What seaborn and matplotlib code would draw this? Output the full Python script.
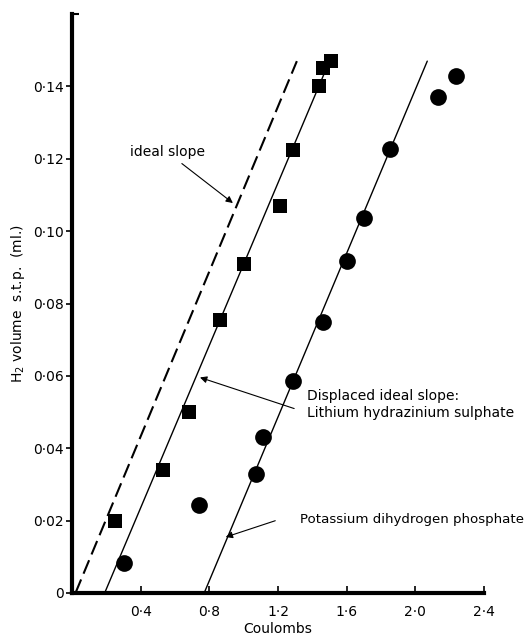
import numpy as np
import pandas as pd
import seaborn as sns
from matplotlib import pyplot as plt
from matplotlib.ticker import FuncFormatter

# data
li_coulombs = [0.25, 0.53, 0.68, 0.86, 1.00, 1.21, 1.29, 1.44, 1.46, 1.51]
li_volume = [0.020, 0.034, 0.050, 0.0755, 0.091, 0.107, 0.1225, 0.140, 0.145, 0.147]

k_coulombs = [0.30, 0.74, 1.07, 1.11, 1.29, 1.46, 1.60, 1.70, 1.85, 2.13, 2.24]
k_volume = [0.0083, 0.0243, 0.033, 0.0432, 0.0585, 0.0748, 0.0918, 0.1037, 0.1228, 0.137, 0.143]

ideal_x = [0.02, 1.31]
ideal_y = [0.0, 0.147]
li_fit_x = [0.19, 1.50]
li_fit_y = [0.0, 0.147]
k_fit_x = [0.77, 2.07]
k_fit_y = [0.0, 0.147]

x_ticks = [0.4, 0.8, 1.2, 1.6, 2.0, 2.4]
y_ticks = [0, 0.02, 0.04, 0.06, 0.08, 0.10, 0.12, 0.14]

sns.set_style("ticks", {"axes.edgecolor": "black", "xtick.color": "black",
                        "ytick.color": "black", "text.color": "black",
                        "axes.labelcolor": "black"})
plt.rcParams['font.family'] = ['DejaVu Sans']

fig = plt.figure(figsize=(5.30, 6.41), dpi=100)
ax = fig.add_axes([0.136, 0.075, 0.777, 0.903])

df_li = pd.DataFrame({"x": li_coulombs, "y": li_volume})
df_k = pd.DataFrame({"x": k_coulombs, "y": k_volume})

sns.lineplot(x=ideal_x, y=ideal_y, ax=ax, color='black', linewidth=1.5,
             linestyle=(0, (7, 3)))
sns.lineplot(x=li_fit_x, y=li_fit_y, ax=ax, color='black', linewidth=1.0)
sns.lineplot(x=k_fit_x, y=k_fit_y, ax=ax, color='black', linewidth=1.0)

sns.scatterplot(data=df_li, x="x", y="y", ax=ax, marker='s', s=115,
                color='black', edgecolor='black', linewidth=0, zorder=3)
sns.scatterplot(data=df_k, x="x", y="y", ax=ax, marker='o', s=145,
                color='black', edgecolor='black', linewidth=0, zorder=3)

ax.set_xlim(0, 2.4)
ax.set_ylim(0, 0.16)
ax.set_xticks(x_ticks)
ax.set_yticks(y_ticks)
ax.set_yticks([0.16], minor=True)

ax.xaxis.set_major_formatter(FuncFormatter(
    lambda v, p: f"{v:.1f}".replace(".", "\u00b7")))
ax.yaxis.set_major_formatter(FuncFormatter(
    lambda v, p: "0" if v == 0 else f"{v:.2f}".replace(".", "\u00b7")))

ax.tick_params(axis='x', direction='in', length=5, width=1.2, labelsize=10, pad=9)
ax.tick_params(axis='y', direction='out', length=4, width=1.2, labelsize=10, pad=2)
ax.tick_params(axis='y', which='minor', direction='in', length=5, width=1.5)

sns.despine(ax=ax)
ax.spines['left'].set_linewidth(3)
ax.spines['bottom'].set_linewidth(3)

ax.set_xlabel("Coulombs", fontsize=10, labelpad=2)
ax.set_ylabel("H$_2$ volume  s.t.p.  (ml.)", fontsize=10, labelpad=4)

arrow = dict(arrowstyle='-|>', color='black', lw=0.8, mutation_scale=10)
ax.annotate("ideal slope", xy=(0.95, 0.1073), xytext=(0.34, 0.122),
            fontsize=10, ha='left', va='center', annotation_clip=False,
            arrowprops=dict(arrow, relpos=(0.6, 0.0)))
ax.annotate("Displaced ideal slope:\nLithium hydrazinium sulphate",
            xy=(0.73, 0.0598), xytext=(1.37, 0.052), fontsize=10,
            ha='left', va='center', linespacing=1.25, annotation_clip=False,
            arrowprops=dict(arrow, relpos=(-0.05, 0.35)))
ax.annotate("Potassium dihydrogen phosphate", xy=(0.88, 0.0152),
            xytext=(1.33, 0.0202), fontsize=9.6, ha='left', va='center',
            annotation_clip=False,
            arrowprops=dict(arrow, relpos=(-0.1, 0.5)))

plt.savefig("out.png", dpi=100)
